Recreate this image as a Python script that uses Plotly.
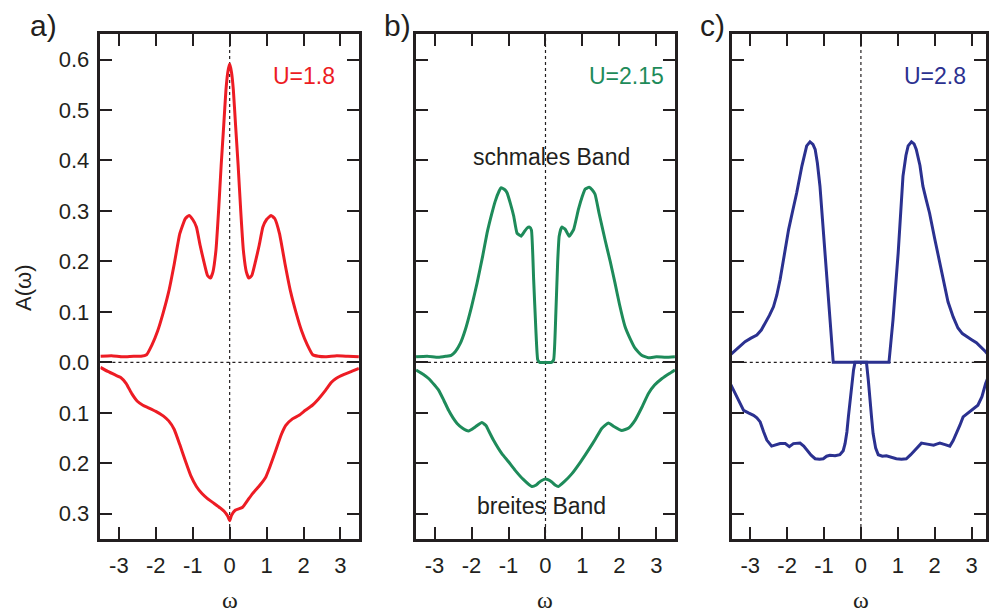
import plotly.graph_objects as go

# ---------------- data ----------------
omega_ticks = [-3, -2, -1, 0, 1, 2, 3]
omega_ticktext = ["-3", "-2", "-1", "0", "1", "2", "3"]
a_ticks = [-0.3, -0.2, -0.1, 0.0, 0.1, 0.2, 0.3, 0.4, 0.5, 0.6]
a_ticktext = ["0.3", "0.2", "0.1", "0.0", "0.1", "0.2", "0.3", "0.4", "0.5", "0.6"]

panel_labels = ["a)", "b)", "c)"]
u_labels = ["U=1.8", "U=2.15", "U=2.8"]

# panel a, U=1.8 : upper (schmales Band) and lower (breites Band, drawn negative)
a_up_x = [-3.5, -3.2, -2.9, -2.6, -2.4, -2.25, -2.1, -1.95, -1.8, -1.65, -1.5, -1.35, -1.2, -1.1, -1.0,
          -0.9, -0.8, -0.7, -0.6, -0.52, -0.45, -0.37, -0.3, -0.23, -0.16, -0.1, -0.05, 0.0,
          0.05, 0.1, 0.16, 0.23, 0.3, 0.37, 0.45, 0.52, 0.6, 0.7, 0.8, 0.9, 1.0, 1.12, 1.22,
          1.35, 1.5, 1.65, 1.8, 1.95, 2.1, 2.25, 2.4, 2.6, 2.9, 3.2, 3.5]
a_up_y = [0.012, 0.013, 0.011, 0.012, 0.012, 0.015, 0.035, 0.062, 0.098, 0.14, 0.195, 0.255, 0.285, 0.291, 0.283,
          0.268, 0.232, 0.2, 0.172, 0.167, 0.18, 0.223, 0.3, 0.39, 0.47, 0.54, 0.575, 0.591,
          0.575, 0.54, 0.47, 0.39, 0.3, 0.223, 0.18, 0.167, 0.172, 0.2, 0.232, 0.268, 0.283, 0.291, 0.285,
          0.255, 0.195, 0.14, 0.098, 0.062, 0.035, 0.015, 0.012, 0.011, 0.013, 0.012, 0.011]

a_dn_x = [-3.5, -3.3, -3.1, -2.95, -2.8, -2.65, -2.5, -2.35, -2.2, -2.0, -1.8, -1.65, -1.5, -1.35, -1.2,
          -1.05, -0.9, -0.75, -0.6, -0.45, -0.3, -0.15, -0.05, 0.0,
          0.05, 0.15, 0.35, 0.5, 0.62, 0.8, 0.98, 1.1, 1.25, 1.4, 1.52, 1.7, 1.88, 2.05, 2.24,
          2.4, 2.6, 2.75, 2.88, 3.1, 3.3, 3.5]
a_dn_y = [-0.010, -0.018, -0.025, -0.030, -0.042, -0.062, -0.077, -0.085, -0.090, -0.097, -0.106, -0.116, -0.133, -0.163, -0.195,
          -0.225, -0.246, -0.260, -0.270, -0.278, -0.286, -0.295, -0.305, -0.314,
          -0.303, -0.293, -0.287, -0.272, -0.260, -0.245, -0.227, -0.205, -0.174, -0.143, -0.125, -0.112, -0.105, -0.095, -0.085,
          -0.073, -0.055, -0.040, -0.032, -0.024, -0.018, -0.012]

# panel b, U=2.15
b_up_x = [-3.5, -3.2, -2.9, -2.7, -2.55, -2.44, -2.3, -2.17, -2.0, -1.85, -1.7, -1.58, -1.45, -1.36, -1.25,
          -1.2, -1.1, -1.04, -0.95, -0.86, -0.77, -0.7, -0.66, -0.58, -0.5, -0.43, -0.38, -0.32, -0.26, -0.21,
          -0.16, 0.0, 0.16, 0.22, 0.28, 0.33, 0.37, 0.44, 0.53, 0.64, 0.76, 0.89, 1.0, 1.07, 1.18,
          1.26, 1.34, 1.45, 1.61, 1.75, 1.88, 2.0, 2.15, 2.3, 2.42, 2.6, 2.78, 3.0, 3.25, 3.5]
b_up_y = [0.011, 0.012, 0.010, 0.012, 0.014, 0.021, 0.038, 0.064, 0.110, 0.157, 0.210, 0.256, 0.295, 0.319, 0.340,
          0.346, 0.342, 0.336, 0.315, 0.290, 0.256, 0.252, 0.250, 0.258, 0.266, 0.268, 0.262, 0.164, 0.064, 0.005,
          0.0, 0.0, 0.0, 0.005, 0.097, 0.200, 0.250, 0.268, 0.264, 0.250, 0.263, 0.303, 0.330, 0.343, 0.347,
          0.342, 0.333, 0.295, 0.243, 0.200, 0.157, 0.115, 0.071, 0.045, 0.028, 0.014, 0.009, 0.011, 0.010, 0.011]

b_dn_x = [-3.5, -3.3, -3.16, -3.0, -2.89, -2.75, -2.62, -2.5, -2.39, -2.25, -2.08, -1.9, -1.72, -1.6, -1.54,
          -1.4, -1.18, -1.0, -0.82, -0.6, -0.37, -0.25, -0.19, -0.1, 0.0, 0.08, 0.17, 0.26, 0.35, 0.5,
          0.71, 0.95, 1.16, 1.35, 1.52, 1.7, 1.85, 2.06, 2.25, 2.42, 2.6, 2.78, 2.95, 3.15, 3.35, 3.5]
b_dn_y = [-0.015, -0.024, -0.032, -0.045, -0.055, -0.075, -0.095, -0.110, -0.121, -0.130, -0.136, -0.128, -0.119, -0.126, -0.135,
          -0.155, -0.181, -0.197, -0.214, -0.232, -0.246, -0.243, -0.239, -0.234, -0.231, -0.233, -0.237, -0.243, -0.246, -0.237,
          -0.221, -0.197, -0.174, -0.152, -0.131, -0.120, -0.127, -0.135, -0.130, -0.115, -0.090, -0.062, -0.045, -0.032, -0.022, -0.015]

# panel c, U=2.8
c_up_x = [-3.54, -3.35, -3.14, -2.98, -2.82, -2.7, -2.59, -2.48, -2.37, -2.28, -2.19, -2.08, -1.96, -1.85, -1.74,
          -1.6, -1.52, -1.47, -1.38, -1.3, -1.24, -1.18, -1.11, -1.04, -0.97, -0.9, -0.84, -0.75, 0.0, 0.76,
          0.87, 1.01, 1.14, 1.22, 1.28, 1.37, 1.44, 1.5, 1.6, 1.68, 1.77, 1.86, 2.0, 2.14, 2.25,
          2.36, 2.5, 2.63, 2.75, 2.86, 3.0, 3.13, 3.25, 3.38, 3.5]
c_up_y = [0.015, 0.028, 0.041, 0.048, 0.054, 0.064, 0.078, 0.093, 0.110, 0.133, 0.164, 0.213, 0.263, 0.300, 0.336,
          0.389, 0.415, 0.429, 0.437, 0.432, 0.422, 0.395, 0.349, 0.280, 0.203, 0.130, 0.071, 0.0, 0.0, 0.0,
          0.084, 0.217, 0.369, 0.410, 0.429, 0.437, 0.433, 0.422, 0.390, 0.349, 0.322, 0.296, 0.245, 0.197, 0.158,
          0.120, 0.090, 0.068, 0.057, 0.051, 0.045, 0.039, 0.031, 0.021, 0.010]

c_dn_x = [-3.54, -3.45, -3.37, -3.28, -3.18, -3.05, -2.91, -2.82, -2.73, -2.64, -2.55, -2.42, -2.3, -2.19, -2.05,
          -1.94, -1.83, -1.65, -1.55, -1.47, -1.35, -1.24, -1.12, -1.02, -0.93, -0.84, -0.7, -0.57, -0.48, -0.43,
          -0.38, -0.34, -0.29, -0.25, -0.2, -0.16, 0.15, 0.2, 0.24, 0.29, 0.33, 0.4, 0.47, 0.58, 0.69,
          0.82, 0.96, 1.1, 1.23, 1.35, 1.46, 1.55, 1.64, 1.8, 1.97, 2.05, 2.14, 2.28, 2.41, 2.5,
          2.59, 2.68, 2.77, 2.86, 2.95, 3.05, 3.17, 3.28, 3.38, 3.5]
c_dn_y = [-0.042, -0.055, -0.068, -0.082, -0.095, -0.100, -0.105, -0.110, -0.118, -0.137, -0.154, -0.166, -0.163, -0.161, -0.161,
          -0.167, -0.161, -0.160, -0.166, -0.174, -0.184, -0.191, -0.192, -0.191, -0.186, -0.184, -0.185, -0.183, -0.175, -0.161,
          -0.138, -0.108, -0.075, -0.042, -0.015, 0.0, 0.0, -0.035, -0.075, -0.110, -0.141, -0.170, -0.183, -0.186, -0.185,
          -0.188, -0.191, -0.192, -0.191, -0.183, -0.174, -0.166, -0.160, -0.162, -0.164, -0.162, -0.160, -0.163, -0.166, -0.155,
          -0.141, -0.125, -0.108, -0.103, -0.099, -0.093, -0.085, -0.068, -0.042, -0.020]

# ---------------- styling ----------------
W, H = 989, 614
INK = "#231f20"
COLORS = ["#ed1c24", "#1e8b5a", "#2b3190"]
SANS = "Liberation Sans, Arial, Helvetica, sans-serif"
SERIF = "Liberation Serif, Times New Roman, serif"

# plot areas in pixels
px_left = [100.7, 417.3, 734.0]
px_right = [360.0, 677.0, 989.0]
label_px = [28, 383, 700]
py_top, py_bot = 34.3, 539.0
x_ranges = [[-3.5, 3.5], [-3.5, 3.5], [-3.5, 3.39]]
y_range = [-0.35, 0.65]
u_pos_x = [2.91, 3.26, 2.91]
line_shapes = ["spline", "spline", "linear"]

series = [
    (a_up_x, a_up_y, a_dn_x, a_dn_y),
    (b_up_x, b_up_y, b_dn_x, b_dn_y),
    (c_up_x, c_up_y, c_dn_x, c_dn_y),
]

fig = go.Figure()
for i, (ux, uy, dx, dy) in enumerate(series):
    sfx = "" if i == 0 else str(i + 1)
    for xs, ys in ((ux, uy), (dx, dy)):
        ln = dict(color=COLORS[i], width=3, shape=line_shapes[i])
        if line_shapes[i] == "spline":
            ln["smoothing"] = 0.4
        fig.add_trace(go.Scatter(
            x=xs, y=ys, mode="lines", xaxis="x" + sfx, yaxis="y" + sfx,
            line=ln, showlegend=False, hoverinfo="skip"))

layout = dict(
    width=W, height=H, margin=dict(l=0, r=0, t=0, b=0),
    paper_bgcolor="white", plot_bgcolor="white", showlegend=False,
    font=dict(family=SANS, color=INK, size=22),
)
shapes = []
annotations = []
for i in range(3):
    sfx = "" if i == 0 else str(i + 1)
    xd = [px_left[i] / W, px_right[i] / W]
    yd = [1 - py_bot / H, 1 - py_top / H]
    layout["xaxis" + sfx] = dict(
        domain=xd, range=x_ranges[i], anchor="y" + sfx,
        tickmode="array", tickvals=omega_ticks, ticktext=omega_ticktext,
        ticks="inside", ticklen=12, tickwidth=2, tickcolor=INK,
        showline=True, linewidth=2.5, linecolor=INK, mirror="ticks",
        showgrid=False, zeroline=False, ticklabelstandoff=5,
        tickfont=dict(family=SANS, size=22, color=INK), fixedrange=True,
    )
    layout["yaxis" + sfx] = dict(
        domain=yd, range=y_range, anchor="x" + sfx,
        tickmode="array", tickvals=a_ticks, ticktext=a_ticktext,
        showticklabels=(i == 0),
        ticks="inside", ticklen=12, tickwidth=2, tickcolor=INK,
        showline=True, linewidth=2.5, linecolor=INK, mirror="ticks",
        showgrid=False, zeroline=False, ticklabelstandoff=4,
        tickfont=dict(family=SANS, size=22, color=INK), fixedrange=True,
    )
    xr = "x" + sfx
    yr = "y" + sfx
    # dotted guide lines at omega=0 and A=0
    shapes.append(dict(type="line", xref=xr + " domain", yref=yr, x0=0, x1=1, y0=0, y1=0,
                       line=dict(color=INK, width=1.2, dash="dot"), layer="below"))
    shapes.append(dict(type="line", xref=xr, yref=yr + " domain", x0=0, x1=0, y0=0, y1=1,
                       line=dict(color=INK, width=1.2, dash="dot"), layer="below"))
    # panel label
    annotations.append(dict(text=panel_labels[i], xref="paper", yref="paper",
                            x=label_px[i] / W, y=1 - 25 / H, xanchor="left", yanchor="middle",
                            showarrow=False, font=dict(family=SANS, size=30, color=INK)))
    # U label
    annotations.append(dict(text=u_labels[i], xref=xr, yref=yr,
                            x=u_pos_x[i], y=0.568, xanchor="right", yanchor="middle",
                            showarrow=False, font=dict(family=SANS, size=23, color=COLORS[i])))
    # omega axis title
    annotations.append(dict(text="ω", xref=xr, yref="paper", x=0, y=0,
                            xanchor="center", yanchor="bottom", yshift=-1, showarrow=False,
                            font=dict(family=SERIF, size=24, color=INK)))

annotations.append(dict(text="schmales Band", xref="x2", yref="y2", x=0.15, y=0.406,
                        xanchor="center", yanchor="middle", showarrow=False,
                        font=dict(family=SANS, size=23, color=INK)))
annotations.append(dict(text="breites Band", xref="x2", yref="y2", x=-0.12, y=-0.284,
                        xanchor="center", yanchor="middle", showarrow=False,
                        font=dict(family=SANS, size=23, color=INK)))
annotations.append(dict(text="A(ω)", xref="paper", yref="paper", x=23 / W, y=1 - 287 / H,
                        xanchor="center", yanchor="middle", textangle=-90, showarrow=False,
                        font=dict(family=SANS, size=22, color=INK)))

layout["shapes"] = shapes
layout["annotations"] = annotations
fig.update_layout(**layout)

fig.write_html("out.html")
